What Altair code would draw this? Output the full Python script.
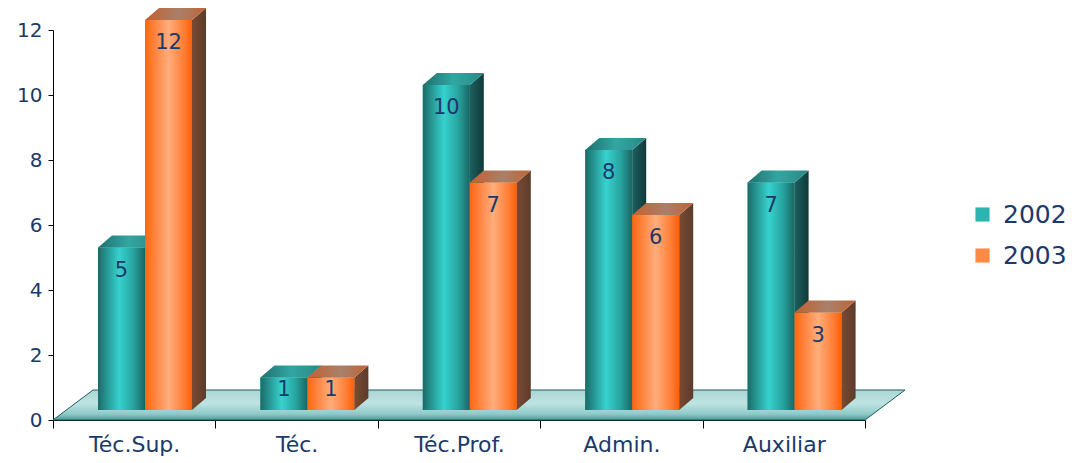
import json
import altair as alt
import pandas as pd

categories = ["Téc.Sup.", "Téc.", "Téc.Prof.", "Admin.", "Auxiliar"]
years = ["2002", "2003"]
v2002 = [5, 1, 10, 8, 7]
v2003 = [12, 1, 7, 6, 3]
y_ticks = [0, 2, 4, 6, 8, 10, 12]

# ---- geometry/style constants (pixels) ----
W, H = 812, 390
XMAX, YMAX = len(categories), 12
PX_X = XMAX / W
PX_Y = YMAX / H
BAR_OFF, BAR_W = 45, 47
DX, DY, LIFT = 14, 12, 10
FLOOR_DX, FLOOR_DY = 40, 30
LABEL_DROP = 23

NAVY = "#1b3a6b"
FONT = "DejaVu Sans"

fronts, polys = [], []
for i, cat in enumerate(categories):
    for j, (yr, vals) in enumerate(zip(years, [v2002, v2003])):
        v = vals[i]
        xl = i + (BAR_OFF + j * BAR_W) * PX_X
        xr = xl + BAR_W * PX_X
        yb = LIFT * PX_Y
        yt = v + yb
        ylab = max(yt - LABEL_DROP * PX_Y, yb + 0.62 * (yt - yb))
        dx, dy = DX * PX_X, DY * PX_Y
        fronts.append(dict(cat=cat, year=yr, value=v, xl=xl, xr=xr, xc=(xl + xr) / 2,
                           yb=yb, yt=yt, ylab=ylab))
        pid = f"{i}-{yr}"
        for (x, y, y2) in [(xl, yt, yt), (xl + dx, yt + dy, yt), (xr, yt + dy, yt), (xr + dx, yt + dy, yt + dy)]:
            polys.append(dict(id=pid + "-top", face="top", year=yr, x=x, y=y, y2=y2))
        for (x, y, y2) in [(xr, yt, yb), (xr + dx, yt + dy, yb + dy)]:
            polys.append(dict(id=pid + "-side", face="side", year=yr, x=x, y=y, y2=y2))

front_df = pd.DataFrame(fronts)
poly_df = pd.DataFrame(polys)

fdx, fdy = FLOOR_DX * PX_X, FLOOR_DY * PX_Y
floor_df = pd.DataFrame(dict(
    x=[0, fdx, XMAX, XMAX + fdx],
    y=[0, fdy, fdy, fdy],
    y2=[0, 0, 0, fdy],
))

xscale = alt.Scale(domain=[0, XMAX], nice=False, zero=False)
yscale = alt.Scale(domain=[0, YMAX], nice=False)

label_expr = "datum.value % 1 == 0.5 ? " + json.dumps(categories, ensure_ascii=False) + "[floor(datum.value)] : ''"
xaxis = alt.Axis(
    values=[k * 0.5 for k in range(2 * XMAX + 1)],
    labelExpr=label_expr,
    tickSize=8,
    tickOpacity={"condition": {"test": "datum.value % 1 == 0", "value": 1}, "value": 0},
    labelOverlap=False,
    labelFlush=False,
    labelFontSize=22,
    labelPadding=6,
    grid=False,
    title=None,
)
yaxis = alt.Axis(values=y_ticks, tickSize=5, labelFontSize=20, labelPadding=6, grid=False, title=None)


def X(field):
    return alt.X(field, type="quantitative", scale=xscale, axis=xaxis)


def Y(field):
    return alt.Y(field, type="quantitative", scale=yscale, axis=yaxis)


def grad(stops, vertical=False):
    return alt.LinearGradient(
        gradient="linear",
        stops=[alt.GradientStop(color=c, offset=o) for o, c in stops],
        x1=0, x2=0 if vertical else 1, y1=0, y2=1 if vertical else 0,
    )


floor = alt.Chart(floor_df).mark_area(
    color=grad([(0, "#a9d6d5"), (0.45, "#bfe3e2"), (0.8, "#8ecac8"), (1, "#4f9896")], vertical=True),
    stroke="#1f5c5c", strokeWidth=1,
).encode(x=X("x"), y=Y("y"), y2="y2")

legend_rects = alt.Chart(front_df).mark_rect().encode(
    x=X("xl"), x2="xr", y=Y("yb"), y2="yt",
    color=alt.Color(
        "year:N",
        scale=alt.Scale(domain=years, range=["#2bb5b2", "#ff8a45"]),
        legend=alt.Legend(
            title=None, orient="none", legendX=917, legendY=172,
            symbolType="square", symbolSize=200, symbolStrokeWidth=0,
            labelFontSize=25, labelColor=NAVY, labelFont=FONT, rowPadding=15, labelOffset=8, padding=0,
        ),
    ),
)

teal_grad = grad([(0, "#1b6b68"), (0.45, "#36d2ce"), (0.75, "#27a4a0"), (1, "#1a6663")])
orange_grad = grad([(0, "#ff6612"), (0.5, "#ffad7c"), (0.85, "#ff7a30"), (1, "#ff5e05")])
teal_side = grad([(0, "#1d605e"), (1, "#0e3a39")])
teal_top = grad([(0, "#1f706d"), (0.5, "#33a6a2"), (1, "#2a8784")])
orange_side = grad([(0, "#7a4a32"), (1, "#5c3b2b")])
orange_top = grad([(0, "#c4602e"), (0.55, "#a8806a"), (1, "#c06434")])


def front(yr, g):
    return alt.Chart(front_df).transform_filter(alt.datum.year == yr).mark_rect(color=g).encode(
        x=X("xl"), x2="xr", y=Y("yb"), y2="yt")


def face(yr, kind, col):
    return alt.Chart(poly_df).transform_filter(
        (alt.datum.year == yr) & (alt.datum.face == kind)
    ).mark_area(color=col).encode(x=X("x"), y=Y("y"), y2="y2", detail="id:N")


labels = alt.Chart(front_df).mark_text(
    baseline="middle", align="center", fontSize=21, font=FONT, color=NAVY
).encode(x=X("xc"), y=Y("ylab"), text="value:Q")

chart = alt.layer(
    floor,
    legend_rects,
    front("2002", teal_grad),
    face("2002", "side", teal_side),
    face("2002", "top", teal_top),
    front("2003", orange_grad),
    face("2003", "side", orange_side),
    face("2003", "top", orange_top),
    labels,
).properties(
    width=W, height=H,
    autosize=alt.AutoSizeParams(type="none"),
    padding={"left": 53, "top": 30, "right": 218, "bottom": 43},
    background="white",
).configure_view(stroke=None).configure_axis(
    labelFont=FONT, labelColor=NAVY, domainColor="#000", tickColor="#000", domainWidth=1,
)

chart.save("out.html", embed_options={"renderer": "svg", "actions": False})
